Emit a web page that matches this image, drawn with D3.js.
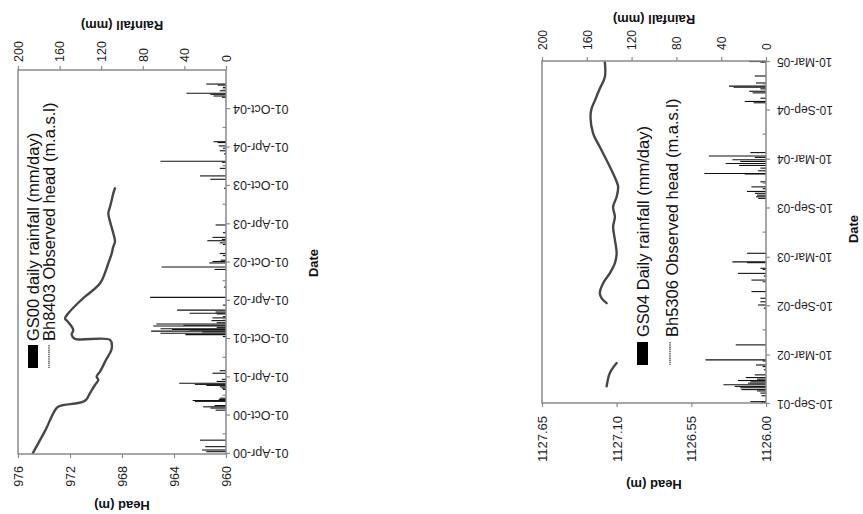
<!DOCTYPE html>
<html>
<head>
<meta charset="utf-8">
<script src="https://cdn.jsdelivr.net/npm/d3@7"></script>
<style>
  html, body { margin: 0; padding: 0; background: #fff; }
  svg { display: block; }
</style>
</head>
<body>
<svg id="chart" width="863" height="514"></svg>
<script>
// ---------- GS00 / Bh8403 ----------
const gs00Dates = ["2000-04-07","2000-04-15","2000-05-01","2000-06-01","2000-10-22","2000-11-01","2000-11-07","2000-11-13",
  "2000-12-03","2000-12-07","2000-12-12","2000-12-18","2001-01-29","2001-02-04","2001-02-10","2001-02-17","2001-02-22",
  "2001-02-27","2001-03-08","2001-03-18","2001-04-16","2001-04-28","2001-10-08","2001-10-17","2001-10-24","2001-10-30",
  "2001-11-03","2001-11-08","2001-11-11","2001-11-14","2001-11-21","2001-11-27","2001-12-01","2001-12-07","2001-12-13",
  "2001-12-23","2002-01-05","2002-01-11","2002-01-24","2002-01-27","2002-02-02","2002-02-11","2002-03-07","2002-04-13",
  "2002-06-01","2002-08-24","2002-09-05","2002-09-24","2002-10-01","2002-10-07","2002-10-29","2002-11-08","2002-12-21",
  "2002-12-29","2003-01-08","2003-01-14","2003-01-24","2003-02-15","2003-03-24","2003-09-15","2003-10-28","2003-11-13",
  "2003-12-19","2004-01-17","2004-01-22","2004-02-26","2004-03-12","2004-03-24","2004-04-04","2004-04-20","2004-04-24",
  "2004-11-22","2004-11-28","2004-12-06","2004-12-11","2004-12-23","2005-01-08","2005-01-19","2005-01-24"];
const gs00Rain = [19,23,20,25,10,15,22,11,
  30,32,7,6,3,4,6,19,30,
  45,9,4,13,6,3,39,63,23,
  72,35,52,63,9,70,41,67,9,
  14,13,3,9,35,10,47,3,73,
  2,11,62,16,13,5,3,6,3,
  6,18,4,13,3,10,2,15,25,
  6,4,63,2,6,3,7,8,12,
  4,12,15,38,6,3,8,19];

const bh8403Dates = ["2000-04-01","2000-07-15","2000-11-02","2000-11-14","2000-11-21","2000-11-29","2000-12-10","2001-01-11",
  "2001-02-19","2001-03-15","2001-03-31","2001-04-24","2001-06-19","2001-08-13","2001-09-22","2001-09-27","2001-10-16",
  "2001-11-09","2001-12-17","2002-01-03","2002-01-27","2002-03-17","2002-04-16","2002-06-19","2002-09-23","2002-11-09",
  "2002-12-11","2003-01-03","2003-02-13","2003-04-09","2003-05-19","2003-06-19","2003-07-21","2003-08-22","2003-09-15"];
const bh8403Head = [974.85,973.92,973.02,972.62,971.85,971.08,970.77,970.46,
  970.08,969.82,969.95,969.69,969.23,968.79,968.92,971.62,971.87,
  971.75,972.15,972.38,972.13,971.38,970.85,969.69,969.05,968.79,
  968.67,968.54,968.67,968.92,969.05,968.92,968.79,968.67,968.54];

const leftHeadTicks = [976, 972, 968, 964, 960];
const leftDateTicks = ["2000-04-01","2000-10-01","2001-04-01","2001-10-01","2002-04-01","2002-10-01",
  "2003-04-01","2003-10-01","2004-04-01","2004-10-01"];
const leftMinorTicks = ["2000-07-01","2001-01-01","2001-07-01","2002-01-01","2002-07-01","2003-01-01",
  "2003-07-01","2004-01-01","2004-07-01","2005-01-01"];

// ---------- GS04 / Bh5306 ----------
const gs04Dates = ["2001-09-12","2001-09-15","2001-10-07","2001-10-17","2001-10-25","2001-10-30","2001-11-06","2001-11-11",
  "2001-11-17","2001-11-23","2001-11-28","2001-12-03","2001-12-08","2001-12-14","2001-12-24","2002-01-12","2002-01-24",
  "2002-01-30","2002-02-14","2002-02-18","2002-04-15","2002-08-30","2002-09-11","2002-09-23","2002-10-06","2002-10-31",
  "2002-12-07","2002-12-13","2002-12-28","2003-01-07","2003-01-22","2003-01-26","2003-02-16","2003-02-19","2003-03-23",
  "2003-10-14","2003-10-20","2003-10-26","2003-11-02","2003-11-09","2003-11-19","2003-11-26","2003-12-15","2004-01-13",
  "2004-01-15","2004-01-25","2004-02-04","2004-02-14","2004-02-21","2004-02-29","2004-03-06","2004-03-15","2004-03-20",
  "2004-04-02","2004-10-05","2004-10-10","2004-10-22","2004-11-11","2004-11-17","2004-11-26","2004-12-02","2004-12-06",
  "2004-12-18","2005-01-13","2005-03-06","2005-03-08"];
const gs04Rain = [4,14,4,5,8,22,23,28,
  38,16,14,25,8,18,10,2,3,
  9,3,54,27,2,7,5,5,13,
  3,13,2,25,3,5,17,30,17,
  7,9,8,10,17,3,13,5,19,
  55,7,5,24,36,23,30,10,51,
  14,11,19,5,12,15,5,29,33,
  9,10,5,15];

// null marks the break in the record
const bh5306Dates = ["2001-11-11","2001-12-31","2002-02-06","2002-05-01","2002-09-18","2002-10-06","2002-10-25","2002-12-01",
  "2003-01-08","2003-02-14","2003-03-23","2003-05-12","2003-06-30","2003-08-06","2003-09-13","2003-10-20","2003-11-26",
  "2003-12-15","2004-02-09","2004-04-23","2004-06-12","2004-08-13","2004-09-13","2004-10-14","2004-11-27","2005-01-09",
  "2005-03-06"];
const bh5306Head = [1127.174,1127.15,1127.10,null,1127.174,1127.21,1127.224,1127.20,
  1127.15,1127.113,1127.10,1127.113,1127.126,1127.113,1127.126,1127.10,1127.089,
  1127.10,1127.15,1127.224,1127.273,1127.293,1127.285,1127.26,1127.224,1127.187,
  1127.187];

const rightHeadTicks = [1127.65, 1127.10, 1126.55, 1126.00];
const rightDateTicks = ["2001-09-10","2002-03-10","2002-09-10","2003-03-10","2003-09-10","2004-03-10",
  "2004-09-10","2005-03-10"];
const rightMinorTicks = ["2001-12-10","2002-06-10","2002-12-10","2003-06-10","2003-12-10","2004-06-10","2004-12-10"];

const rainTicks = [0, 40, 80, 120, 160, 200];

// ---------- drawing ----------
const FONT = '"Liberation Sans", Arial, Helvetica, sans-serif';
const AXIS = "#8a8a8a";
const INK = "#1e1e1e";
const parse = d3.timeParse("%Y-%m-%d");
const svg = d3.select("#chart");

function drawPanel(c) {
  const g = svg.append("g");
  const { x0, x1, y0, y1 } = c.box;

  const yDate = d3.scaleTime().domain(c.dateDomain.map(parse)).range([y1, y0]);
  const xHead = d3.scaleLinear().domain(c.headDomain).range([x0, x1]);
  const xRain = d3.scaleLinear().domain([200, 0]).range([x0, x1]);

  // daily rainfall bars, growing out of the date axis
  const rain = c.rainDates.map((d, i) => ({ d: parse(d), v: c.rain[i] }));
  g.append("g").selectAll("line").data(rain).join("line")
    .attr("x1", xRain(0)).attr("x2", d => xRain(d.v))
    .attr("y1", d => yDate(d.d)).attr("y2", d => yDate(d.d))
    .attr("stroke", "#111").attr("stroke-width", 1.1);

  // observed head
  const head = c.headDates.map((d, i) => ({ d: parse(d), v: c.head[i] }));
  const line = d3.line().defined(d => d.v != null)
    .x(d => xHead(d.v)).y(d => yDate(d.d)).curve(d3.curveCatmullRom);
  g.append("path").datum(head).attr("d", line)
    .attr("fill", "none").attr("stroke", "#474747").attr("stroke-width", 2.4)
    .attr("stroke-linejoin", "round").attr("stroke-linecap", "round");

  // frame
  g.append("rect").attr("x", x0).attr("y", y0).attr("width", x1 - x0).attr("height", y1 - y0)
    .attr("fill", "none").attr("stroke", AXIS).attr("stroke-width", 1.5);

  // date axis (right side)
  const gd = g.append("g").attr("transform", `translate(${x1},0)`)
    .call(d3.axisRight(yDate).tickValues(c.dateTicks.map(parse))
      .tickFormat(d3.timeFormat("%d-%b-%y")).tickSize(4).tickPadding(0));
  gd.select(".domain").remove();
  gd.attr("font-family", FONT).attr("font-size", c.dateFont);
  gd.selectAll("line").attr("stroke", AXIS).attr("stroke-width", 1.2);
  gd.selectAll("text").attr("x", null).attr("fill", INK)
    .attr("text-anchor", "end").attr("dy", "0.33em")
    .attr("transform", `translate(${c.dateGap},0) rotate(180)`);

  g.append("g").selectAll("line").data(c.minorTicks.map(parse)).join("line")
    .attr("x1", x1).attr("x2", x1 - 3.5)
    .attr("y1", d => yDate(d)).attr("y2", d => yDate(d))
    .attr("stroke", AXIS).attr("stroke-width", 1.2);

  // head axis (bottom)
  const gh = g.append("g").attr("transform", `translate(0,${y1})`)
    .call(d3.axisBottom(xHead).tickValues(c.headTicks).tickFormat(c.headFmt).tickSize(4));
  gh.select(".domain").remove();
  gh.attr("font-family", FONT).attr("font-size", c.headFont);
  gh.selectAll("line").attr("stroke", AXIS).attr("stroke-width", 1.2);
  gh.selectAll("text").attr("y", null).attr("fill", INK)
    .attr("text-anchor", "end").attr("dy", "0.35em")
    .attr("transform", `translate(0,${c.headGap}) rotate(-90)`);

  // rainfall axis (top)
  const gr = g.append("g").attr("transform", `translate(0,${y0})`)
    .call(d3.axisTop(xRain).tickValues(rainTicks).tickSize(4));
  gr.select(".domain").remove();
  gr.attr("font-family", FONT).attr("font-size", c.rainFont);
  gr.selectAll("line").attr("stroke", AXIS).attr("stroke-width", 1.2);
  gr.selectAll("text").attr("y", null).attr("fill", INK)
    .attr("text-anchor", "start").attr("dy", "0.35em")
    .attr("transform", `translate(0,${-c.rainGap}) rotate(-90)`);

  // axis titles
  const title = (txt, x, y, rot, size) => g.append("text")
    .attr("transform", `translate(${x},${y}) rotate(${rot})`)
    .attr("text-anchor", "middle").attr("font-family", FONT)
    .attr("font-weight", "bold").attr("font-size", size).attr("fill", "#111").text(txt);
  title("Rainfall (mm)", c.rainTitle[0], c.rainTitle[1], 180, c.titleFont);
  title("Head (m)", c.headTitle[0], c.headTitle[1], 180, c.titleFont);
  title("Date", c.dateTitle[0], c.dateTitle[1], -90, c.titleFont);

  // legend
  const L = c.legend;
  g.append("rect").attr("x", L.rect[0]).attr("y", L.rect[1]).attr("width", L.rect[2]).attr("height", L.rect[3])
    .attr("fill", "#000");
  g.append("line").attr("x1", L.lineX).attr("x2", L.lineX).attr("y1", L.rect[1]).attr("y2", L.rect[1] + L.rect[3])
    .attr("stroke", "#444").attr("stroke-width", 1.3).attr("stroke-dasharray", "1.5 0.7");
  L.labels.forEach((t, i) => {
    g.append("text")
      .attr("transform", `translate(${L.baseX[i]},${L.startY}) rotate(-90)`)
      .attr("text-anchor", "start").attr("font-family", FONT).attr("font-size", L.size)
      .attr("fill", "#111").text(t);
  });
}

drawPanel({
  box: { x0: 18, x1: 226, y0: 70, y1: 454 },
  dateDomain: ["2000-03-27", "2005-04-01"],
  headDomain: [976, 960],
  headTicks: leftHeadTicks, headFmt: d3.format("d"),
  dateTicks: leftDateTicks, minorTicks: leftMinorTicks,
  rainDates: gs00Dates, rain: gs00Rain,
  headDates: bh8403Dates, head: bh8403Head,
  dateFont: 12.5, headFont: 12.5, rainFont: 12.5, titleFont: 13,
  dateGap: 7, headGap: 12, rainGap: 8,
  rainTitle: [122, 21], headTitle: [122, 501], dateTitle: [318, 263],
  legend: {
    rect: [28, 345, 10, 23], lineX: 49,
    labels: ["GS00 daily rainfall (mm/day)", "Bh8403 Observed head (m.a.s.l)"],
    baseX: [39, 55], startY: 341, size: 16.5
  }
});

drawPanel({
  box: { x0: 542, x1: 766, y0: 61, y1: 403 },
  dateDomain: ["2001-09-10", "2005-03-10"],
  headDomain: [1127.65, 1126.00],
  headTicks: rightHeadTicks, headFmt: d3.format(".2f"),
  dateTicks: rightDateTicks, minorTicks: rightMinorTicks,
  rainDates: gs04Dates, rain: gs04Rain,
  headDates: bh5306Dates, head: bh5306Head,
  dateFont: 12, headFont: 13, rainFont: 12, titleFont: 13,
  dateGap: 11, headGap: 13, rainGap: 11,
  rainTitle: [654, 15], headTitle: [654, 480], dateTitle: [858, 229],
  legend: {
    rect: [637, 342, 11, 23], lineX: 670,
    labels: ["GS04 Daily rainfall (mm/day)", "Bh5306 Observed head (m.a.s.l)"],
    baseX: [649, 678], startY: 337, size: 16.5
  }
});
</script>
</body>
</html>
